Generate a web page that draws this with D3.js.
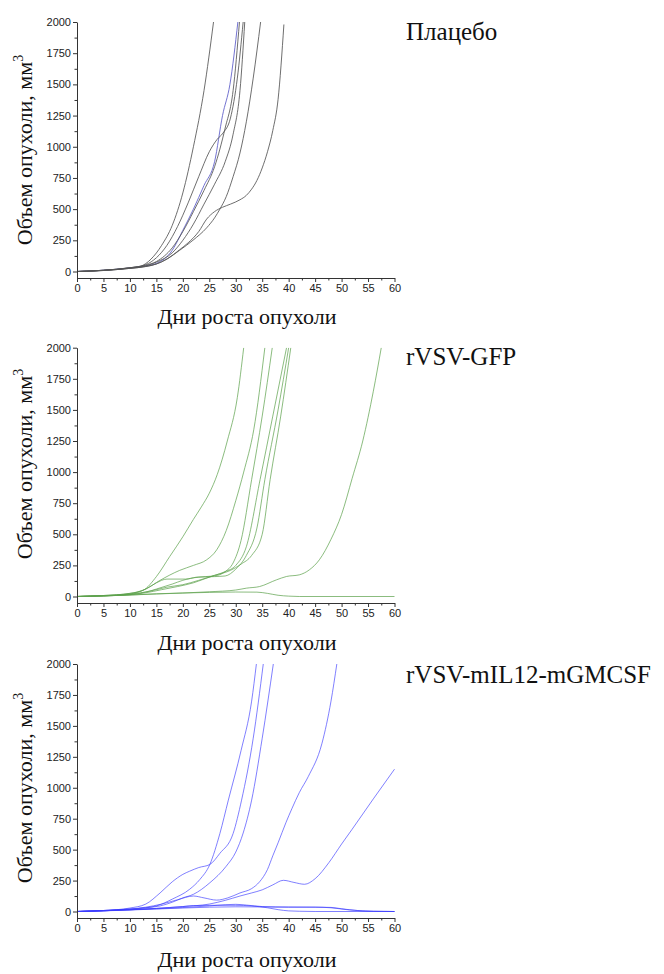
<!DOCTYPE html>
<html><head><meta charset="utf-8">
<script src="https://cdn.jsdelivr.net/npm/d3@7"></script>
<style>html,body{margin:0;padding:0;background:#fff}</style>
</head><body><svg id="c" width="664" height="974"></svg>
<script>
// ---------- DATA (day, tumour volume mm^3) ----------
const placebo1 = [[0,0],[5,10],[10,30],[12,42],[14,100],[16,210],[18,370],[20,630],[22,1000],[24,1450],[25.8,2000]];
const placebo2 = [[0,0],[5,10],[10,28],[13,45],[15,65],[18,170],[20,330],[22,500],[24,690],[26,880],[27.5,1250],[28.9,1500],[30.4,2000]];
const placebo3 = [[0,0],[5,10],[10,30],[13,55],[15,110],[17,210],[19,360],[21,550],[23,760],[25,960],[26.5,1060],[27.6,1110],[29,1230],[30.3,1550],[31.4,2000]];
const placebo4 = [[0,0],[5,9],[10,27],[13,45],[15,75],[18,150],[20,250],[22,380],[24,540],[26,700],[28,880],[29.5,1100],[30.8,1450],[31.7,2000]];
const placebo5 = [[0,0],[5,8],[10,25],[13,40],[15,60],[17,100],[19.4,170],[21.9,250],[24.5,350],[26,430],[27,500],[28.2,600],[29.5,760],[30.8,950],[32,1200],[33.3,1550],[34.7,2000]];
const placebo6 = [[0,0],[5,8],[10,25],[13,40],[15,60],[17,100],[19.4,175],[21,230],[23,320],[24.5,420],[26,480],[27.5,515],[29,540],[30.8,575],[32,610],[33,660],[34,730],[35,830],[36,960],[37,1130],[38,1380],[39.1,1980]];
const placebo7 = [[0,0],[5,10],[10,30],[13,50],[15,80],[18,190],[20,320],[22,480],[24,650],[26,840],[28,1150],[29.5,1450],[30.7,2000]];

const gfp1 = [[0,0],[5,8],[10,25],[12.5,50],[15,160],[17.5,320],[20,480],[22,620],[23.5,720],[25,830],[26.5,980],[28.4,1250],[30.3,1600],[31.5,2000]];
const gfp2 = [[0,0],[5,8],[10,25],[13,60],[15.7,130],[19.4,210],[22,250],[24.5,295],[26.4,375],[28.2,530],[30,770],[31.5,1000],[33.4,1340],[35.5,2000]];
const gfp3 = [[0,0],[5,6],[10,20],[13,60],[15,110],[17,140],[20.5,140],[22.5,155],[26,165],[28,200],[29.5,270],[31,450],[33,940],[35,1450],[36.9,2000]];
const gfp4 = [[0,0],[5,5],[10,15],[13,30],[16,55],[19,80],[22,110],[24,140],[26,170],[28,200],[30,250],[32,400],[34.6,940],[37,1450],[39.6,2000]];
const gfp5 = [[0,0],[5,5],[10,15],[13,35],[15,60],[18,100],[20,130],[23,155],[26,160],[28,165],[30,220],[32,330],[34,550],[35.5,940],[38,1500],[40,2000]];
const gfp6 = [[0,0],[5,6],[10,18],[14,45],[17,75],[20,95],[23,130],[26,170],[29,210],[31,260],[33,330],[35,500],[36.5,940],[38.5,1450],[40.4,2000]];
const gfp7 = [[0,0],[5,5],[10,12],[15,20],[20,28],[25,38],[30,52],[32,67],[34.5,80],[37.7,134],[39.6,161],[42,174],[43.9,214],[45.8,295],[48,460],[50,660],[52,950],[54,1250],[56,1650],[57.5,2000]];
const gfp8 = [[0,0],[5,5],[10,12],[15,22],[20,28],[25,33],[30,36],[34,35],[36,25],[38,10],[40,3],[42,0],[60,0]];

const il1 = [[0,0],[5,8],[10,20],[13,30],[15,45],[18,100],[21.3,180],[23.2,258],[25.1,380],[27,630],[28.6,900],[31,1300],[33,1700],[33.9,2000]];
const il2 = [[0,0],[5,8],[10,28],[13,60],[15.7,150],[18,240],[20,300],[21.3,326],[23,355],[25.1,380],[27,470],[29.5,630],[31.1,900],[33.3,1400],[35.2,2000]];
const il3 = [[0,0],[5,6],[10,18],[13,30],[15.7,45],[18,75],[20,110],[22,139],[25.1,232],[28.2,366],[30,480],[31.4,634],[33,900],[35,1400],[37.1,2000]];
const il4 = [[0,0],[5,8],[10,20],[13,35],[16,60],[19,95],[22,125],[24,110],[26.4,92],[28.5,110],[30.8,150],[33,185],[34.5,240],[36,340],[37,450],[38,555],[39.5,720],[40.6,830],[42,960],[43.7,1090],[46.3,1360],[48,1700],[49.1,2000]];
const il5 = [[0,0],[5,6],[10,14],[15,25],[20,40],[25,60],[28,90],[30.8,125],[33,150],[35,175],[37,215],[39,252],[41,235],[43,220],[45,265],[47.6,395],[50,545],[52,665],[56,910],[60,1150]];
const il6 = [[0,0],[5,6],[10,14],[15,25],[20,40],[22,48],[25,50],[30,50],[33,45],[36,30],[38,15],[40,5],[42,2],[45,0],[60,0]];
const il7 = [[0,0],[5,6],[10,14],[15,22],[20,32],[25,45],[28,55],[30,58],[32,52],[35,40],[40,35],[45,35],[48,30],[51,15],[54,5],[56,2],[60,0]];
const il8 = [[0,0],[5,5],[10,12],[15,20],[20,28],[25,35],[30,38],[35,37],[40,36],[45,35],[48,33],[50,22],[53,8],[56,2],[60,0]];

const placeboSeries = [placebo1, placebo2, placebo3, placebo4, placebo5, placebo6, placebo7];
const gfpSeries = [gfp1, gfp2, gfp3, gfp4, gfp5, gfp6, gfp7, gfp8];
const ilSeries = [il1, il2, il3, il4, il5, il6, il7, il8];

const xTicks = [0,5,10,15,20,25,30,35,40,45,50,55,60];
const xMinorTicks = [2.5,7.5,12.5,17.5,22.5,27.5,32.5,37.5,42.5,47.5,52.5,57.5];
const yTicks = [0,250,500,750,1000,1250,1500,1750,2000];
const yMinorTicks = [125,375,625,875,1125,1375,1625,1875];
const groupTitles = ["Плацебо", "rVSV-GFP", "rVSV-mIL12-mGMCSF"];
const xTitle = "Дни роста опухоли";
const yTitle = "Объем опухоли, мм";
const yTitleSup = "3";

// ---------- LAYOUT ----------
const svg = d3.select("#c");
const left = 77, right = 394.5;
const panels = [
  {series: placeboSeries, colors: ["#555","#5a5ac8","#555","#555","#555","#555","#555"], opacity: 0.95,
   top: 22, axisY: 278, yTitleC: 150, xTitleY: 324, titleY: 40},
  {series: gfpSeries, colors: gfpSeries.map(()=>"#5ea24c"), opacity: 0.8,
   top: 347.7, axisY: 603, yTitleC: 464, xTitleY: 650, titleY: 365},
  {series: ilSeries, colors: ilSeries.map(()=>"#3b3bff"), opacity: 0.72,
   top: 664, axisY: 918, yTitleC: 788, xTitleY: 967, titleY: 683}
];

panels.forEach((p, i) => {
  const g = svg.append("g");
  const zeroPx = p.axisY - 6.5;
  const yPerUnit = (zeroPx - p.top) / 2000;
  const yMinDom = -(p.axisY - zeroPx) / yPerUnit;
  const x = d3.scaleLinear().domain([0,60]).range([left, right]);
  const y = d3.scaleLinear().domain([yMinDom, 2000]).range([p.axisY, p.top]);

  const clipId = "clip" + i;
  svg.append("clipPath").attr("id", clipId).append("rect")
    .attr("x", left).attr("y", p.top).attr("width", right - left + 2).attr("height", p.axisY - p.top);

  const line = d3.line().x(d => x(d[0])).y(d => y(d[1])).curve(d3.curveMonotoneX);
  const lg = g.append("g").attr("clip-path", `url(#${clipId})`);
  p.series.forEach((s, k) => {
    lg.append("path").attr("d", line(s)).attr("fill", "none")
      .attr("stroke", p.colors[k]).attr("stroke-width", 0.9).attr("stroke-opacity", p.opacity);
  });

  // axes
  g.append("g").attr("transform", `translate(0,${p.axisY})`)
    .call(d3.axisBottom(x).tickValues(xTicks).tickSize(4).tickSizeOuter(0).tickPadding(2).tickFormat(d3.format("d")));
  g.append("g").attr("transform", `translate(0,${p.axisY})`)
    .call(d3.axisBottom(x).tickValues(xMinorTicks).tickSize(2.5).tickFormat(""))
    .call(s => s.select(".domain").remove());
  g.append("g").attr("transform", `translate(${left},0)`)
    .call(d3.axisLeft(y).tickValues(yTicks).tickSize(4).tickSizeOuter(0).tickPadding(2).tickFormat(d3.format("d")));
  g.append("g").attr("transform", `translate(${left},0)`)
    .call(d3.axisLeft(y).tickValues(yMinorTicks).tickSize(2.5).tickFormat(""))
    .call(s => s.select(".domain").remove());
  g.selectAll(".domain").attr("stroke", "#333").attr("stroke-width", 1);
  g.selectAll(".tick line").attr("stroke", "#333");
  g.selectAll(".tick text").attr("font-family", "'Liberation Sans', Arial, sans-serif")
    .attr("font-size", 11).attr("fill", "#222");

  // axis titles
  const yt = g.append("text")
    .attr("transform", `translate(32,${p.yTitleC}) rotate(-90)`)
    .attr("text-anchor", "middle")
    .attr("font-family", "'Liberation Serif', 'Times New Roman', serif")
    .attr("font-size", 22).attr("fill", "#111");
  yt.append("tspan").text(yTitle);
  yt.append("tspan").text(yTitleSup).attr("font-size", 14).attr("dy", -9);

  g.append("text").attr("x", 247).attr("y", p.xTitleY).attr("text-anchor", "middle")
    .attr("font-family", "'Liberation Serif', 'Times New Roman', serif")
    .attr("font-size", 22).attr("fill", "#111").text(xTitle);

  g.append("text").attr("x", 406).attr("y", p.titleY)
    .attr("font-family", "'Liberation Serif', 'Times New Roman', serif")
    .attr("font-size", 25).attr("fill", "#111").text(groupTitles[i]);
});
</script></body></html>
